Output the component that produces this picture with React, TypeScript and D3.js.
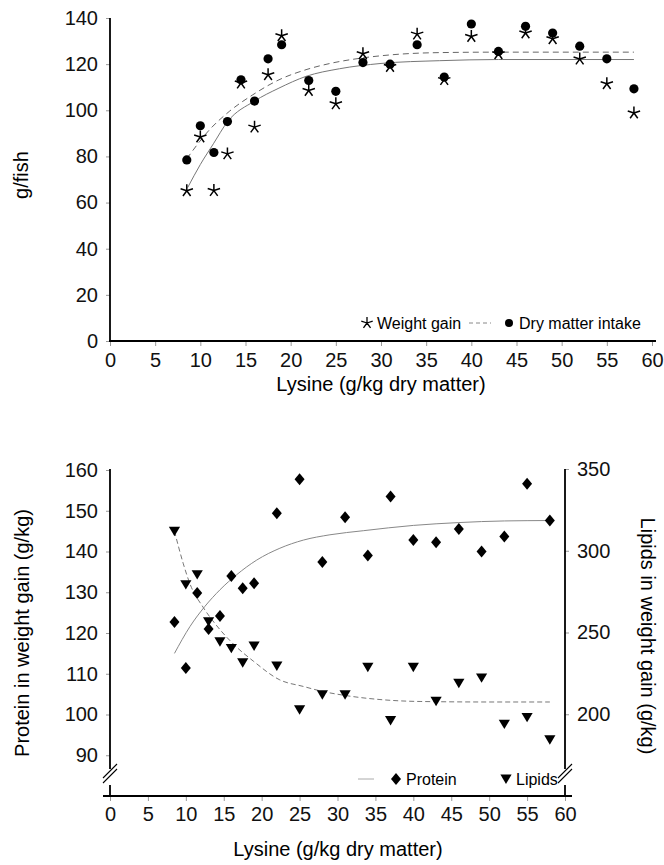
import React, { useEffect, useRef } from "react";
import * as d3 from "d3";

// lysine levels (g/kg dry matter), same for both panels
const lysine = [8.5, 10, 11.5, 13, 14.5, 16, 17.5, 19, 22, 25, 28, 31, 34, 37, 40, 43, 46, 49, 52, 55, 58];

// top panel, g/fish
const weightGain = [65.1, 88.4, 65.2, 81.1, 111.8, 92.7, 115.4, 132.3, 108.6, 102.8, 124.5, 119, 133, 113.3, 132, 124.5, 133.5, 131, 122.2, 111.5, 98.8];
const dryMatter = [78.5, 93.3, 81.7, 95.1, 113.2, 104, 122.3, 128.4, 112.9, 108.2, 120.7, 120, 128.4, 114.4, 137.4, 125.5, 136.4, 133.5, 127.8, 122.3, 109.3];

// fitted curves: [lysine, value]
const dryMatterFit = [[8.5, 79], [11, 91.5], [13.2, 99.5], [15.8, 106.7], [18.7, 113.2], [21.7, 117.6], [24.6, 120.5], [27.6, 122.5], [31, 124], [36.5, 125], [43, 125.2], [58, 125.2]];
const weightGainFit = [[8.6, 66.5], [10, 76.5], [11.45, 85.5], [13, 95], [16, 104], [18.7, 109.6], [21.7, 114.7], [25.4, 118], [30, 120.3], [36.5, 121.5], [43, 122], [58, 122]];

// bottom panel, g/kg
const protein = [122.7, 111.4, 129.8, 121, 124.2, 134, 131, 132.2, 149.4, 157.7, 137.4, 148.4, 139, 153.5, 142.8, 142.3, 145.5, 140, 143.7, 156.6, 147.6];
const lipids = [312, 279.3, 285.4, 256.7, 244.4, 240.3, 231.5, 241.8, 229.5, 202.8, 212, 212, 228.8, 196.2, 228.8, 208, 219, 222.3, 194, 198.1, 184.4];

const proteinFit = [[8.5, 115], [10.55, 121.6], [12.5, 126.5], [14.5, 130.6], [16.7, 134.3], [19.35, 137.9], [22.4, 140.8], [25.5, 142.8], [29, 144.1], [33.4, 145.1], [40, 146.4], [46, 147.1], [52, 147.5], [58, 147.6]];
const lipidsFit = [[8.5, 312], [9.67, 292], [10.55, 279.7], [12.3, 265.3], [14.1, 254], [16.3, 242.8], [18.9, 232.5], [22.4, 221], [25.5, 217], [28, 214], [31, 211.5], [35.6, 209], [41, 207.8], [50, 207.5], [58, 207.5]];

const xTicks = d3.range(0, 61, 5);
const topYTicks = d3.range(0, 141, 20);
const leftTicks = [90, 100, 110, 120, 130, 140, 150, 160];
const rightTicks = [200, 250, 300, 350];

const FONT = "Liberation Sans, Arial, sans-serif";

const starPath = (r) =>
  [-90, -18, 54, 126, 198]
    .map((a) => {
      const t = (a * Math.PI) / 180;
      return `M0,0L${(r * Math.cos(t)).toFixed(2)},${(r * Math.sin(t)).toFixed(2)}`;
    })
    .join("");
const diamondPath = "M0,-6L5,0L0,6L-5,0Z";
const triPath = "M-5.6,-4.4L5.6,-4.4L0,5Z";

export default function App() {
  const svgRef = useRef(null);

  useEffect(() => {
    const svg = d3.select(svgRef.current);
    svg.selectAll("*").remove();

    const styleAxis = (g) => {
      g.select(".domain").remove();
      g.selectAll(".tick line").attr("stroke", "#999").attr("stroke-width", 1);
      g.selectAll(".tick text").attr("font-family", FONT).attr("font-size", 20).attr("fill", "#111");
    };

    // ---------- top panel ----------
    const x1 = d3.scaleLinear().domain([0, 60]).range([110, 652]);
    const y1 = d3.scaleLinear().domain([0, 140]).range([341, 18]);

    svg.append("g").attr("transform", "translate(110,0)")
      .call(d3.axisLeft(y1).tickValues(topYTicks).tickSize(4).tickPadding(8).tickSizeOuter(0))
      .call(styleAxis);
    svg.append("g").attr("transform", "translate(0,341)")
      .call(d3.axisBottom(x1).tickValues(xTicks).tickSize(5).tickPadding(7).tickSizeOuter(0))
      .call(styleAxis);
    svg.append("line").attr("x1", 110).attr("x2", 110).attr("y1", 18).attr("y2", 342)
      .attr("stroke", "#000").attr("stroke-width", 1.8);
    svg.append("line").attr("x1", 109).attr("x2", 656).attr("y1", 341).attr("y2", 341)
      .attr("stroke", "#000").attr("stroke-width", 1.8);

    const line1 = d3.line().x((d) => x1(d[0])).y((d) => y1(d[1])).curve(d3.curveMonotoneX);
    svg.append("path").attr("d", line1(dryMatterFit)).attr("fill", "none")
      .attr("stroke", "#666").attr("stroke-width", 1).attr("stroke-dasharray", "6,4");
    svg.append("path").attr("d", line1(weightGainFit)).attr("fill", "none")
      .attr("stroke", "#777").attr("stroke-width", 1);

    svg.append("g").selectAll("circle").data(lysine).join("circle")
      .attr("cx", (d) => x1(d)).attr("cy", (d, i) => y1(dryMatter[i])).attr("r", 4.6).attr("fill", "#000");
    svg.append("g").selectAll("path").data(lysine).join("path")
      .attr("transform", (d, i) => `translate(${x1(d)},${y1(weightGain[i])})`)
      .attr("d", starPath(6.5)).attr("stroke", "#000").attr("stroke-width", 1.5).attr("fill", "none");

    svg.append("text").attr("transform", "translate(28,175) rotate(-90)").attr("text-anchor", "middle")
      .attr("font-family", FONT).attr("font-size", 20).text("g/fish");
    svg.append("text").attr("x", 381).attr("y", 391).attr("text-anchor", "middle")
      .attr("font-family", FONT).attr("font-size", 20).text("Lysine (g/kg dry matter)");

    // top legend
    svg.append("path").attr("transform", "translate(367,323)").attr("d", starPath(6))
      .attr("stroke", "#000").attr("stroke-width", 1.3).attr("fill", "none");
    svg.append("text").attr("x", 377).attr("y", 329).attr("font-family", FONT).attr("font-size", 16).text("Weight gain");
    svg.append("line").attr("x1", 469).attr("x2", 491).attr("y1", 323).attr("y2", 323)
      .attr("stroke", "#888").attr("stroke-dasharray", "4,3");
    svg.append("circle").attr("cx", 509).attr("cy", 323).attr("r", 4).attr("fill", "#000");
    svg.append("text").attr("x", 519).attr("y", 329).attr("font-family", FONT).attr("font-size", 16).text("Dry matter intake");

    // ---------- bottom panel ----------
    const x2 = d3.scaleLinear().domain([0, 60]).range([110, 565]);
    const yL = d3.scaleLinear().domain([80, 160]).range([796, 470]);
    const yR = d3.scaleLinear().domain([150, 350]).range([796, 469]);

    svg.append("g").attr("transform", "translate(110,0)")
      .call(d3.axisLeft(yL).tickValues(leftTicks).tickSize(4).tickPadding(8).tickSizeOuter(0))
      .call(styleAxis);
    svg.append("g").attr("transform", "translate(565,0)")
      .call(d3.axisRight(yR).tickValues(rightTicks).tickSize(4).tickPadding(8).tickSizeOuter(0))
      .call(styleAxis);
    svg.append("g").attr("transform", "translate(0,796)")
      .call(d3.axisBottom(x2).tickValues(xTicks).tickSize(5).tickPadding(6).tickSizeOuter(0))
      .call(styleAxis);

    // axis lines with breaks
    [110, 565].forEach((ax) => {
      svg.append("line").attr("x1", ax).attr("x2", ax).attr("y1", 469).attr("y2", 769)
        .attr("stroke", "#000").attr("stroke-width", 1.8);
      svg.append("line").attr("x1", ax).attr("x2", ax).attr("y1", 785).attr("y2", 797)
        .attr("stroke", "#000").attr("stroke-width", 1.8);
      [0, 5].forEach((o) => {
        svg.append("line").attr("x1", ax - 7).attr("x2", ax + 7).attr("y1", 783 - o).attr("y2", 769 - o)
          .attr("stroke", "#000").attr("stroke-width", 1.1);
      });
    });
    svg.append("line").attr("x1", 103).attr("x2", 572).attr("y1", 796).attr("y2", 796)
      .attr("stroke", "#000").attr("stroke-width", 1.8);

    const lineP = d3.line().x((d) => x2(d[0])).y((d) => yL(d[1])).curve(d3.curveMonotoneX);
    const lineL = d3.line().x((d) => x2(d[0])).y((d) => yR(d[1])).curve(d3.curveMonotoneX);
    svg.append("path").attr("d", lineP(proteinFit)).attr("fill", "none")
      .attr("stroke", "#888").attr("stroke-width", 1);
    svg.append("path").attr("d", lineL(lipidsFit)).attr("fill", "none")
      .attr("stroke", "#777").attr("stroke-width", 1).attr("stroke-dasharray", "5,3");

    svg.append("g").selectAll("path").data(lysine).join("path")
      .attr("transform", (d, i) => `translate(${x2(d)},${yL(protein[i])})`)
      .attr("d", diamondPath).attr("fill", "#000");
    svg.append("g").selectAll("path").data(lysine).join("path")
      .attr("transform", (d, i) => `translate(${x2(d)},${yR(lipids[i])})`)
      .attr("d", triPath).attr("fill", "#000");

    svg.append("text").attr("transform", "translate(29,633) rotate(-90)").attr("text-anchor", "middle")
      .attr("font-family", FONT).attr("font-size", 20).text("Protein in weight gain (g/kg)");
    svg.append("text").attr("transform", "translate(641,636) rotate(90)").attr("text-anchor", "middle")
      .attr("font-family", FONT).attr("font-size", 20).text("Lipids in weight gain (g/kg)");
    svg.append("text").attr("x", 338).attr("y", 856).attr("text-anchor", "middle")
      .attr("font-family", FONT).attr("font-size", 20).text("Lysine (g/kg dry matter)");

    // bottom legend
    svg.append("line").attr("x1", 358).attr("x2", 374).attr("y1", 779).attr("y2", 779)
      .attr("stroke", "#aaa");
    svg.append("path").attr("transform", "translate(396,779)").attr("d", diamondPath).attr("fill", "#000");
    svg.append("text").attr("x", 406).attr("y", 785).attr("font-family", FONT).attr("font-size", 16).text("Protein");
    svg.append("path").attr("transform", "translate(506,779)").attr("d", triPath).attr("fill", "#000");
    svg.append("text").attr("x", 516).attr("y", 785).attr("font-family", FONT).attr("font-size", 16).text("Lipids");
  }, []);

  return (
    <div>
      <svg
        ref={svgRef}
        width={664}
        height={865}
        style={{ position: "absolute", left: 0, top: 0, background: "#fff" }}
      ></svg>
    </div>
  );
}
